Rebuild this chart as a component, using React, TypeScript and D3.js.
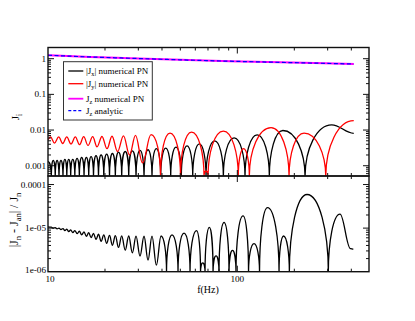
import React from 'react';
import * as d3 from 'd3';

const W = 415, H = 321;

// x axis (frequency, Hz)
const freqDomain = [10, 496];
const xTickValues = [10, 100];
const xTickLabels = ['10', '100'];

// top panel y ticks
const topDomain = [5.15e-4, 2.06];
const topTickValues = [1, 0.1, 0.01, 0.001];
const topTickLabels = ['1', '0.1', '0.01', '0.001'];

// bottom panel y ticks
const botDomain = [1e-6, 1.57e-4];
const botTickValues = [1e-4, 1e-5, 1e-6];
const botTickLabels = ['0.0001', '1e-05', '1e-06'];

// J_z numerical PN / analytic
const jzFreq = [10, 16.7, 27, 50, 91.5, 168, 412];
const jzVal = [1.25, 1.12, 1.03, 0.93, 0.85, 0.79, 0.71];

// |J_x| extrema (0 = touches zero)
const jxFreq = [10, 10.41, 10.66, 10.92, 11.17, 11.43, 11.71, 12.0, 12.28, 12.57, 12.87, 13.18, 13.52, 13.86,
  14.24, 14.64, 15.06, 15.5, 15.95, 16.41, 16.89, 17.39, 17.93, 18.48, 19.08, 19.71, 20.41, 21.13, 21.89, 22.68,
  23.58, 24.51, 25.58, 26.69, 27.9, 29.17, 30.62, 32.15, 33.75, 35.43, 37.36, 39.39, 41.86, 44.48, 47.45, 50.61,
  54.25, 58.14, 63.04, 68.35, 75.94, 84.37, 96.2, 109.8, 127.3, 147.6, 174, 227.9, 315, 412];
const jxVal = [0.0013, 0, 0.0014, 0, 0.0014, 0, 0.0014, 0, 0.0015, 0, 0.0015, 0, 0.0015, 0,
  0.0016, 0, 0.0017, 0, 0.0017, 0, 0.0018, 0, 0.0019, 0, 0.002, 0, 0.0021, 0, 0.0022, 0,
  0.0024, 0, 0.0025, 0, 0.0026, 0, 0.0027, 0, 0.0028, 0, 0.003, 0, 0.0031, 0, 0.0033, 0,
  0.0036, 0, 0.0041, 0, 0.005, 0, 0.006, 0, 0.0073, 0, 0.0097, 0, 0.014, 0.0081];

// |J_y| extrema
const jyFreq = [10, 10.31, 10.82, 11.39, 11.96, 12.56, 13.23, 13.94, 14.67, 15.44, 16.27, 17.22, 18.15, 19.28,
  20.5, 21.78, 23.3, 25.05, 26.95, 28.99, 31.56, 35.0, 39.29, 44.1, 50.12, 57.3, 66.71, 68.35, 70.03, 84.37,
  101.2, 107.8, 115.7, 150.7, 187.6, 225.1, 293.1, 412];
const jyVal = [0.0055, 0.0064, 0.0043, 0.0064, 0.0042, 0.0064, 0.0041, 0.0064, 0.0039, 0.0065, 0.0037, 0.0065, 0.0034, 0.0066,
  0.003, 0.0067, 0.0025, 0.0069, 0.002, 0.0071, 0.0012, 0.0074, 0, 0.0082, 0, 0.0088, 0, 0.0007, 0, 0.0093,
  0, 0.003, 0, 0.0117, 0, 0.0082, 0, 0.0183];

// |J_n - J_an| / J_n extrema
const errFreq = [10, 10.41, 10.66, 10.92, 11.17, 11.43, 11.71, 12.0, 12.28, 12.57, 12.87, 13.18, 13.52, 13.86,
  14.24, 14.64, 15.06, 15.5, 15.95, 16.41, 16.89, 17.39, 17.93, 18.48, 19.08, 19.71, 20.41, 21.13, 21.89, 22.68,
  23.58, 24.51, 25.58, 26.69, 27.9, 29.17, 30.62, 32.15, 33.75, 35.43, 37.36, 39.53, 42.27, 45.19, 48.61, 52.29,
  56.27, 60.89, 63.93, 65.66, 67.53, 71.15, 74.42, 77.19, 80.05, 85.09, 90.37, 94.3, 98.43, 107.2, 114.6, 122.5,
  131.0, 144.4, 166.1, 175.4, 188.3, 233.5, 302.5, 348.7, 396, 410];
const errVal = [1.07e-5, 1.049e-5, 1.0e-5, 1.02e-5, 9.63e-6, 9.95e-6, 9.28e-6, 9.74e-6, 8.8e-6, 9.48e-6, 8.34e-6, 9.08e-6, 7.91e-6, 8.8e-6,
  7.46e-6, 8.48e-6, 7.0e-6, 8.17e-6, 6.49e-6, 7.87e-6, 6.03e-6, 7.58e-6, 5.48e-6, 7.26e-6, 4.97e-6, 7.03e-6, 4.49e-6, 6.81e-6, 4.04e-6, 6.71e-6,
  3.6e-6, 6.63e-6, 3.13e-6, 6.6e-6, 2.7e-6, 6.55e-6, 2.29e-6, 6.5e-6, 1.85e-6, 6.55e-6, 1.41e-6, 6.6e-6, 0, 7.0e-6, 0, 7.7e-6,
  0, 8.8e-6, 0, 1.6e-6, 0, 1.04e-5, 0, 2.3e-6, 0, 1.35e-5, 0, 3.1e-6, 0, 1.9e-5, 0, 4.4e-6,
  0, 2.95e-5, 0, 6.6e-6, 0, 5.9e-5, 0, 2.1e-5, 3.4e-6, 3.3e-6];

const legendLabels = [
  { main: '|J', sub: 'x', rest: '| numerical PN' },
  { main: '|J', sub: 'y', rest: '| numerical PN' },
  { main: 'J', sub: 'z', rest: ' numerical PN' },
  { main: 'J', sub: 'z', rest: ' analytic' },
];

const L = 48, R = 369;
const TOP0 = 47.5, TOP1 = 176, BOT0 = 176, BOT1 = 271.7;
const FONT = 'Liberation Serif, Times New Roman, serif';

function archPath(fs: number[], vs: number[], x: any, y: any, floorY: number) {
  const pts = fs.map((f, i) => ({ x: x(f), y: vs[i] > 0 ? y(vs[i]) : floorY, z: vs[i] <= 0 }));
  const p = d3.path();
  p.moveTo(pts[0].x, pts[0].y);
  const K = 0.552;
  for (let i = 1; i < pts.length; i++) {
    const a = pts[i - 1], b = pts[i];
    const dx = b.x - a.x;
    if (b.z) {
      p.bezierCurveTo(a.x + K * dx, a.y, b.x, b.y - K * (b.y - a.y), b.x, b.y);
    } else if (a.z) {
      p.bezierCurveTo(a.x, a.y + K * (b.y - a.y), b.x - K * dx, b.y, b.x, b.y);
    } else {
      p.bezierCurveTo(a.x + 0.38 * dx, a.y, b.x - 0.38 * dx, b.y, b.x, b.y);
    }
  }
  return p.toString();
}

function PanelFrame({ y, y0, y1 }: any) {
  const x = d3.scaleLog().domain(freqDomain).range([L, R]);
  const xt = x.ticks();
  const yt = y.ticks();
  const isMajor = (v: number) => Math.abs(Math.log10(v) - Math.round(Math.log10(v))) < 1e-6;
  const els: any[] = [];
  xt.forEach((v: number, i: number) => {
    const len = isMajor(v) ? 6 : 3;
    const px = x(v);
    if (px <= L + 0.5 || px >= R - 0.5) return;
    els.push(<line key={'xb' + i} x1={px} x2={px} y1={y1} y2={y1 - len} />);
    els.push(<line key={'xt' + i} x1={px} x2={px} y1={y0} y2={y0 + len} />);
  });
  yt.forEach((v: number, i: number) => {
    const len = isMajor(v) ? 6 : 3;
    const py = y(v);
    if (py < y0 + 0.5 || py > y1 - 0.5) return;
    els.push(<line key={'yl' + i} x1={L} x2={L + len} y1={py} y2={py} />);
    els.push(<line key={'yr' + i} x1={R} x2={R - len} y1={py} y2={py} />);
  });
  return (
    <g stroke="#111" strokeWidth={1}>
      {els}
    </g>
  );
}

export default function App() {
  const x = d3.scaleLog().domain(freqDomain).range([L, R]);
  const yTop = d3.scaleLog().domain(topDomain).range([TOP1, TOP0]);
  const yBot = d3.scaleLog().domain(botDomain).range([BOT1, BOT0]);

  const jzLine = d3.line<number>()
    .x((d, i) => x(jzFreq[i]))
    .y((d) => yTop(d))
    .curve(d3.curveMonotoneX);

  const jxPath = archPath(jxFreq, jxVal, x, yTop, TOP1 + 1);
  const jyPath = archPath(jyFreq, jyVal, x, yTop, TOP1 + 1);
  const errPath = archPath(errFreq, errVal, x, yBot, BOT1 + 1);

  const legendY = [71, 83.7, 98.7, 110.7];
  const legendColors = ['#000', '#ff0000', '#ff00ff', '#0000ff'];

  return (
    <svg width={W} height={H} viewBox={`0 0 ${W} ${H}`} style={{ display: 'block', position: 'absolute', left: 0, top: 0 }}>
      <rect x={0} y={0} width={W} height={H} fill="#fff" />
      <defs>
        <clipPath id="clipTop"><rect x={L} y={TOP0} width={R - L} height={TOP1 - TOP0} /></clipPath>
        <clipPath id="clipBot"><rect x={L} y={BOT0} width={R - L} height={BOT1 - BOT0} /></clipPath>
      </defs>

      <g clipPath="url(#clipTop)" fill="none">
        <path d={jxPath} stroke="#000" strokeWidth={1.3} />
        <path d={jyPath} stroke="#ff0000" strokeWidth={1.3} />
        <path d={jzLine(jzVal) || ''} stroke="#ff00ff" strokeWidth={2} />
        <path d={jzLine(jzVal) || ''} stroke="#0000ff" strokeWidth={1.2} strokeDasharray="4,2.5" />
      </g>
      <g clipPath="url(#clipBot)" fill="none">
        <path d={errPath} stroke="#000" strokeWidth={1.3} />
      </g>

      <PanelFrame y={yTop} y0={TOP0} y1={TOP1} />
      <PanelFrame y={yBot} y0={BOT0} y1={BOT1} />
      <rect x={L} y={TOP0} width={R - L} height={TOP1 - TOP0} fill="none" stroke="#111" strokeWidth={1.4} />
      <rect x={L} y={BOT0} width={R - L} height={BOT1 - BOT0} fill="none" stroke="#111" strokeWidth={1.4} />

      {/* y tick labels */}
      <g fontFamily={FONT} fontSize={9.2} fill="#000" textAnchor="end">
        {topTickValues.map((v, i) => (
          <text key={'tt' + i} x={46} y={yTop(v) + 3}>{topTickLabels[i]}</text>
        ))}
        {botTickValues.map((v, i) => (
          <text key={'bt' + i} x={46} y={yBot(v) + (i === 2 ? 1.5 : 3)}>{botTickLabels[i]}</text>
        ))}
      </g>
      {/* x tick labels */}
      <g fontFamily={FONT} fontSize={9.2} fill="#000" textAnchor="middle">
        {xTickValues.map((v, i) => (
          <text key={'xt' + i} x={x(v) + (i === 0 ? 2 : 0)} y={282}>{xTickLabels[i]}</text>
        ))}
      </g>
      <text x={208} y={293} fontFamily={FONT} fontSize={10} textAnchor="middle">f(Hz)</text>

      {/* y axis titles */}
      <text transform="translate(19,117) rotate(-90)" fontFamily={FONT} fontSize={11} textAnchor="middle">
        J<tspan dy={2.5} fontSize={7.5}>i</tspan>
      </text>
      <text transform="translate(18,220) rotate(-90)" fontFamily={FONT} fontSize={12} textAnchor="middle">
        |J<tspan dy={2.7} fontSize={8.5}>n</tspan><tspan dy={-2.7}> - J</tspan><tspan dy={2.7} fontSize={8.5}>an</tspan><tspan dy={-2.7}>| / J</tspan><tspan dy={2.7} fontSize={8.5}>n</tspan>
      </text>

      {/* legend */}
      <rect x={63.5} y={61.7} width={88.8} height={58.3} fill="#fff" stroke="#333" strokeWidth={1} />
      {legendLabels.map((lab, i) => (
        <g key={'lg' + i}>
          <line x1={68.3} x2={83.3} y1={legendY[i]} y2={legendY[i]} stroke={legendColors[i]}
            strokeWidth={i === 2 ? 1.8 : 1.3} strokeDasharray={i === 3 ? '3,2' : undefined} />
          <text x={86} y={legendY[i] + 3} fontFamily={FONT} fontSize={9} fill="#000">
            {lab.main}<tspan dy={2.2} fontSize={6.3}>{lab.sub}</tspan><tspan dy={-2.2}>{lab.rest}</tspan>
          </text>
        </g>
      ))}
    </svg>
  );
}
